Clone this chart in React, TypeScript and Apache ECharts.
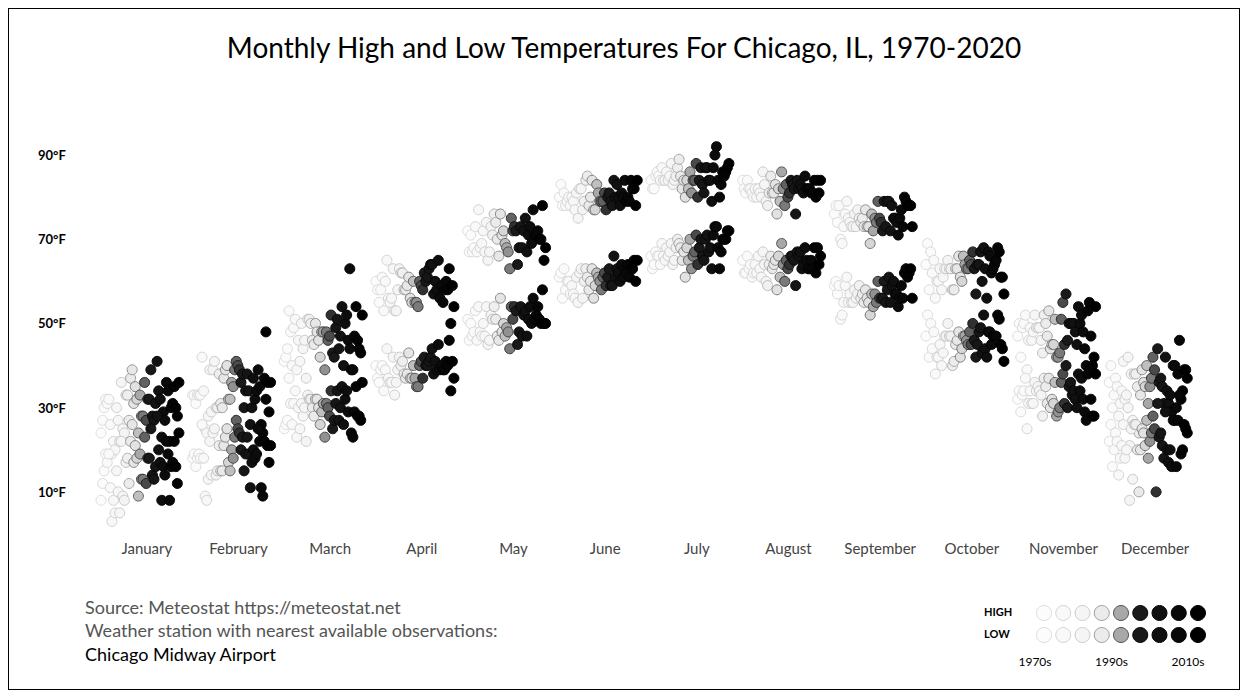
import React, { useEffect, useRef } from "react";
import * as echarts from "echarts";

const MONTHS = ["January", "February", "March", "April", "May", "June", "July", "August", "September", "October", "November", "December"];
const FIRST_YEAR = 1970;
const LAST_YEAR = 2020;
const Y_TICKS = [10, 30, 50, 70, 90];
const LEGEND_YEAR_LABELS = ["1970s", "1990s", "2010s"];

// Monthly average high / low (°F), 1970..2020
const JAN_HIGH = [24,27,30,32,31,32,26,19,22,20, 30,27,22,36,25,24,33,33,27,37, 39,31,35,32,24,33,28,28,36,27, 32,32,39,28,27,31,41,34,32,23, 29,27,36,34,22,30,31,35,30,28, 36];
const JAN_LOW = [8,12,15,19,17,19,11,3,8,5, 15,10,5,22,9,8,17,18,12,22, 26,17,21,18,9,19,13,13,23,12, 18,18,25,14,13,16,28,20,17,8, 16,14,22,19,8,16,17,22,16,12, 24];
const FEB_HIGH = [33,33,31,33,33,33,42,34,25,24, 28,39,29,39,41,30,30,38,31,30, 37,39,40,32,32,36,35,39,41,40, 39,36,38,30,34,38,34,26,30,37, 32,34,39,35,26,24,37,48,36,29, 36];
const FEB_LOW = [18,19,16,18,19,18,26,18,9,8, 13,22,14,24,25,14,15,21,15,15, 21,23,25,17,15,20,18,23,27,25, 24,20,23,15,19,23,19,11,17,20, 18,19,25,22,11,9,22,32,21,17, 21];
const MAR_HIGH = [41,42,44,53,48,40,49,51,39,46, 41,50,44,46,37,51,51,50,46,45, 50,48,46,42,48,48,39,48,46,47, 52,43,42,49,51,44,47,54,40,50, 52,46,63,39,39,47,54,46,44,43, 52];
const MAR_LOW = [25,26,27,37,31,26,31,34,23,30, 25,31,28,30,22,33,32,32,30,28, 32,32,30,26,29,31,23,31,30,28, 34,25,27,31,34,27,30,35,26,32, 34,29,44,24,23,29,35,28,28,27, 36];
const APR_HIGH = [60,58,55,58,61,53,60,65,56,55, 56,63,53,53,58,63,62,62,58,58, 59,61,56,55,60,55,55,54,60,59, 58,62,60,61,63,64,64,57,60,58, 65,56,59,55,58,60,58,63,50,59, 54];
const APR_LOW = [40,37,36,39,40,34,39,44,37,36, 36,42,33,36,39,42,40,41,38,37, 38,43,37,37,40,37,35,35,40,41, 37,42,40,40,41,42,44,38,41,39, 45,39,40,39,39,41,40,46,34,41, 37];
const MAY_HIGH = [72,67,71,67,68,73,67,77,68,69, 72,67,74,65,67,73,71,76,74,70, 66,76,71,72,69,68,67,63,75,72, 73,72,64,68,73,68,72,75,67,71, 73,69,77,71,71,72,70,70,78,65, 68];
const MAY_LOW = [51,46,50,47,48,53,46,54,48,47, 50,47,54,45,46,52,51,54,51,47, 46,56,48,50,47,49,48,44,54,51, 54,53,45,48,54,47,52,53,47,51, 54,50,56,51,52,54,51,50,58,50, 50];
const JUN_HIGH = [80,83,78,81,78,79,80,78,80,79, 77,81,75,82,82,77,79,84,85,78, 80,84,77,77,83,81,79,79,79,81, 77,80,81,79,78,84,80,83,80,78, 81,80,84,79,80,79,84,82,82,78, 84];
const JUN_LOW = [61,62,56,63,58,60,60,57,59,57, 56,61,55,62,63,56,60,63,61,58, 60,63,56,59,62,61,60,58,61,62, 59,61,63,59,59,66,61,63,62,60, 64,61,63,62,64,61,64,63,65,60, 65];
const JUL_HIGH = [84,82,82,85,86,85,84,87,84,84, 86,84,85,88,83,84,85,87,89,85, 82,84,80,84,82,86,81,84,84,88, 80,84,87,83,81,87,87,84,84,79, 87,90,92,84,80,83,86,85,86,87, 88];
const JUL_LOW = [66,63,64,67,66,66,64,69,66,65, 68,66,67,69,64,65,68,70,69,68, 65,67,61,68,65,70,63,66,67,71, 64,68,70,66,65,70,71,67,68,63, 71,73,73,68,63,67,70,70,70,72, 72];
const AUG_HIGH = [84,82,81,84,82,82,81,80,82,80, 82,81,80,86,83,79,78,81,85,81, 81,83,76,82,79,86,82,78,83,80, 81,84,83,82,76,84,82,83,82,81, 85,82,82,82,81,81,84,80,84,81, 84];
const AUG_LOW = [65,62,62,66,63,64,61,62,64,62, 66,63,61,67,64,60,59,64,66,63, 64,65,58,66,61,69,64,60,65,63, 64,66,66,65,59,67,66,67,63,64, 68,65,63,63,65,63,68,62,68,64, 66];
const SEP_HIGH = [76,78,74,78,70,69,73,76,79,75, 74,73,73,76,73,77,75,74,75,73, 77,73,73,69,76,72,75,74,79,75, 74,72,79,73,79,79,72,78,75,75, 74,71,75,77,73,80,79,78,78,78, 73];
const SEP_LOW = [59,60,57,59,51,52,55,59,61,55, 57,55,55,58,56,57,59,56,57,55, 58,56,55,52,57,54,57,55,60,56, 56,56,60,55,58,61,55,59,60,57, 57,54,56,59,56,62,63,61,62,63, 56];
const OCT_HIGH = [64,69,58,67,62,65,56,60,60,63, 58,61,63,63,65,63,63,58,58,63, 63,66,61,60,66,64,63,63,65,64, 67,63,57,64,64,67,60,68,63,56, 67,66,62,63,64,65,68,67,61,61, 57];
const OCT_LOW = [47,52,42,50,44,48,38,42,42,45, 40,43,47,47,50,47,47,40,41,45, 46,48,42,44,47,47,46,45,48,45, 50,46,42,45,48,49,43,52,44,42, 48,48,45,47,47,47,52,51,45,44, 41];
const NOV_HIGH = [47,50,42,49,50,52,39,46,49,46, 48,52,49,49,49,46,43,52,50,47, 53,44,45,45,51,42,42,43,51,55, 45,57,46,50,50,50,50,48,45,54, 50,52,48,44,40,53,55,47,40,42, 54];
const NOV_LOW = [32,34,29,33,34,37,25,31,34,31, 31,36,34,35,34,33,28,37,35,31, 37,30,32,31,36,28,29,30,36,38, 31,40,30,35,36,33,34,32,30,38, 34,37,32,29,27,38,39,32,28,28, 38];
const DEC_HIGH = [36,40,30,33,37,35,28,31,34,41, 32,33,42,21,38,27,38,38,35,24, 33,39,36,35,40,31,35,37,42,39, 24,44,36,37,35,31,42,34,31,33, 29,40,40,30,38,46,32,34,39,39, 37];
const DEC_LOW = [22,26,16,20,24,22,14,18,21,26, 18,20,30,8,25,13,26,26,20,10, 20,25,24,21,27,18,22,24,28,25, 10,31,23,24,21,18,29,20,17,20, 16,27,27,16,27,33,19,20,26,25, 24];

const HIGHS = [JAN_HIGH, FEB_HIGH, MAR_HIGH, APR_HIGH, MAY_HIGH, JUN_HIGH, JUL_HIGH, AUG_HIGH, SEP_HIGH, OCT_HIGH, NOV_HIGH, DEC_HIGH];
const LOWS = [JAN_LOW, FEB_LOW, MAR_LOW, APR_LOW, MAY_LOW, JUN_LOW, JUL_LOW, AUG_LOW, SEP_LOW, OCT_LOW, NOV_LOW, DEC_LOW];

// year -> shade (very light for old years, black for recent)
const FILL_STOPS: [number, number][] = [[0, 252], [0.3, 244], [0.45, 225], [0.55, 110], [0.62, 25], [1, 0]];
const STROKE_STOPS: [number, number][] = [[0, 222], [0.3, 200], [0.45, 120], [0.55, 45], [0.62, 10], [1, 0]];
function interp(stops: [number, number][], t: number): number {
  for (let i = 1; i < stops.length; i++) {
    const [t0, g0] = stops[i - 1];
    const [t1, g1] = stops[i];
    if (t <= t1) return g0 + ((t - t0) / (t1 - t0)) * (g1 - g0);
  }
  return 0;
}
function grey(g: number) {
  const v = Math.round(g);
  return `rgb(${v},${v},${v})`;
}
const fillFor = (t: number) => grey(interp(FILL_STOPS, t));
const strokeFor = (t: number) => grey(interp(STROKE_STOPS, t));

const SPAN = LAST_YEAR - FIRST_YEAR;
function buildSeriesData(table: number[][]) {
  const out: any[] = [];
  for (let yi = 0; yi <= SPAN; yi++) {
    const t = yi / SPAN;
    for (let m = 0; m < 12; m++) {
      const x = m + 1 - 0.5 + t * 0.85;
      out.push({
        value: [x, table[m][yi], FIRST_YEAR + yi],
        itemStyle: { color: fillFor(t), borderColor: strokeFor(t), borderWidth: 1, opacity: 1 },
      });
    }
  }
  return out;
}

export default function App() {
  const ref = useRef<HTMLDivElement>(null);
  useEffect(() => {
    if (!ref.current) return;
    const chart = echarts.init(ref.current, null, { renderer: "svg" });
    const font = "Lato, 'Noto Sans', sans-serif";

    const legendEls: any[] = [];
    const nLegend = 9;
    ["HIGH", "LOW"].forEach((lab, r) => {
      const cy = r === 0 ? 604 : 626;
      legendEls.push({
        type: "text",
        left: 975,
        top: cy - 7,
        style: { text: lab, font: `bold 11px ${font}`, fill: "#000" },
      });
      for (let k = 0; k < nLegend; k++) {
        const t = k / (nLegend - 1);
        legendEls.push({
          type: "circle",
          shape: { cx: 1035 + k * 19.25, cy, r: 7.5 },
          style: { fill: fillFor(t), stroke: strokeFor(t), lineWidth: 1 },
        });
      }
    });
    LEGEND_YEAR_LABELS.forEach((lab, i) => {
      legendEls.push({
        type: "text",
        x: 1026 + i * 76.5,
        y: 652,
        style: { text: lab, font: `12px ${font}`, fill: "#000", align: "center", verticalAlign: "middle" },
      });
    });

    chart.setOption({
      animation: false,
      backgroundColor: "#fff",
      title: {
        text: "Monthly High and Low Temperatures For Chicago, IL, 1970-2020",
        left: "center",
        top: 19,
        textStyle: { fontFamily: font, fontSize: 28, fontWeight: "normal", color: "#000" },
      },
      grid: { left: 92, right: 38, top: 125, bottom: 155 },
      xAxis: {
        type: "value",
        min: 0.5,
        max: 12.5,
        axisLine: { show: false },
        axisTick: { show: false },
        splitLine: { show: false },
        axisLabel: {
          customValues: MONTHS.map((_, i) => i + 1),
          formatter: (v: number) => MONTHS[Math.round(v) - 1] ?? "",
          fontFamily: font,
          fontSize: 15,
          color: "#444",
          margin: 6,
        },
      },
      yAxis: {
        type: "value",
        min: 0,
        max: 95,
        axisLine: { show: false },
        axisTick: { show: false },
        splitLine: { show: false },
        axisLabel: {
          customValues: Y_TICKS,
          formatter: (v: number) => `${v}°F`,
          fontFamily: font,
          fontSize: 13,
          fontWeight: "bold",
          color: "#000",
          align: "left",
          margin: 63,
        },
      },
      graphic: [
        { type: "text", left: 76, top: 589, style: { text: "Source: Meteostat https://meteostat.net", font: `18px ${font}`, fill: "#555" } },
        { type: "text", left: 76, top: 612, style: { text: "Weather station with nearest available observations:", font: `18px ${font}`, fill: "#555" } },
        { type: "text", left: 76, top: 636, style: { text: "Chicago Midway Airport", font: `18px ${font}`, fill: "#000" } },
        ...legendEls,
      ],
      series: [
        { name: "High", type: "scatter", symbolSize: 10, itemStyle: { opacity: 1 }, data: buildSeriesData(HIGHS) },
        { name: "Low", type: "scatter", symbolSize: 10, itemStyle: { opacity: 1 }, data: buildSeriesData(LOWS) },
      ],
    });
    return () => chart.dispose();
  }, []);
  return <div ref={ref} style={{ width: 1230, height: 680, border: "1px solid #000" }} />;
}
